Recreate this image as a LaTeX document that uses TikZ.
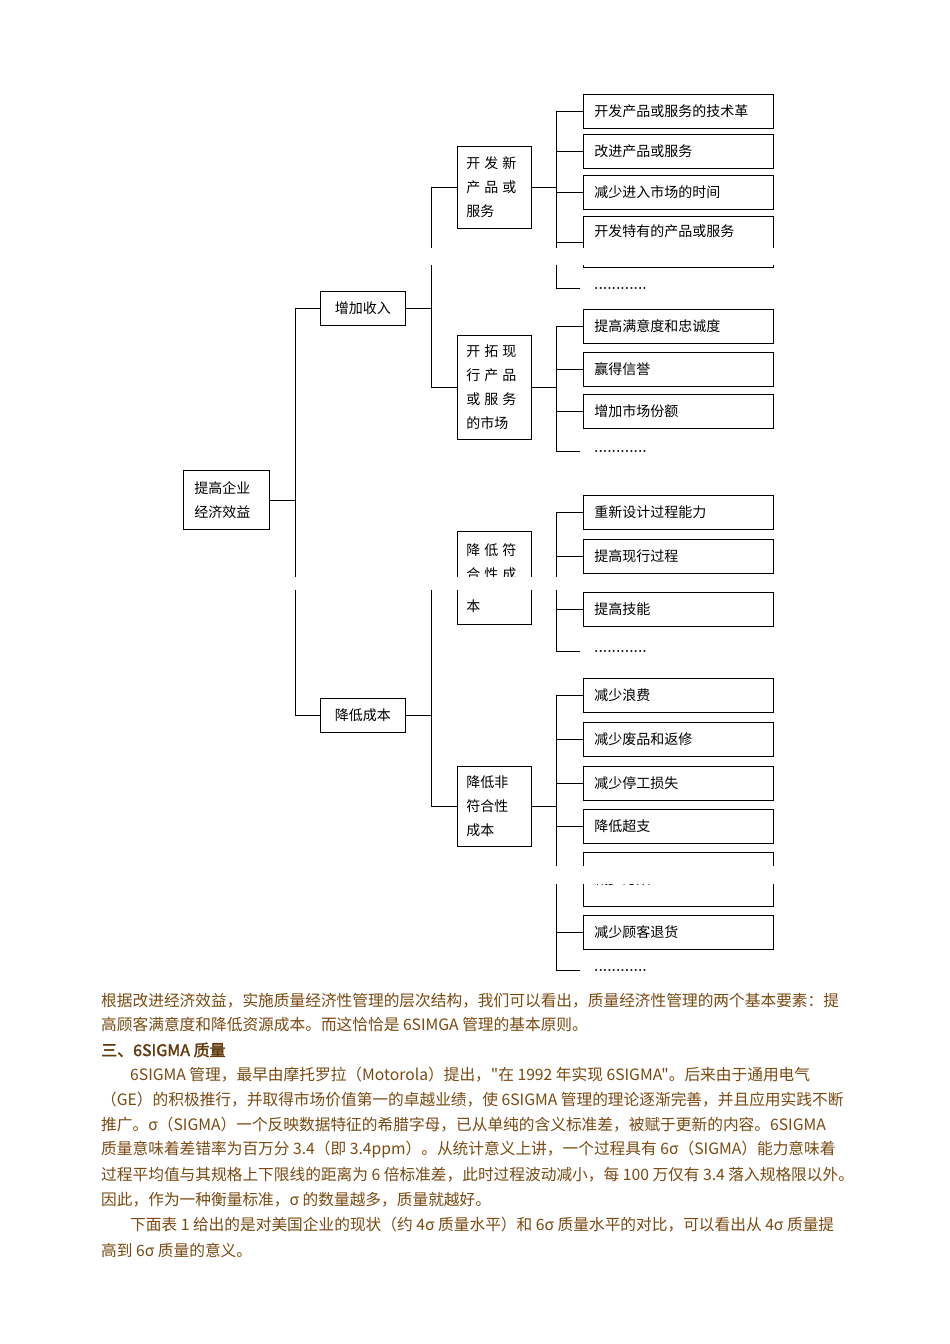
\documentclass[tikz,border=0pt]{standalone}
\usepackage{fontspec}
\newfontfamily\cjk{Noto Sans CJK SC}
\newfontfamily\cjkb[FakeBold=2]{Noto Sans CJK SC}
\definecolor{brn}{HTML}{7A4A12}
\begin{document}
\begin{tikzpicture}[x=1pt,y=-1pt,
  font=\cjk\fontsize{14}{24}\selectfont,
  ln/.style={line width=0.8pt},
  bx/.style={draw,line width=0.8pt,anchor=north west,inner sep=0pt,align=left},
  l3/.style={bx,minimum width=190,minimum height=34,text width=168},
  dt/.style={anchor=west,inner sep=0pt,font=\bfseries\fontsize{14}{14}\selectfont},
  para/.style={anchor=west,inner sep=0pt,text=brn,font=\cjk\fontsize{15.7}{16}\selectfont}]
\useasboundingbox (0,0) rectangle (950,1344);
\fill[white] (0,0) rectangle (950,1344);
% boxes
\node[bx,minimum width=86,minimum height=59,text width=64] (root) at (183,470) {提高企业\\经济效益};
\node[bx,minimum width=85,minimum height=34,align=center] (inc) at (320,291) {增加收入};
\node[bx,minimum width=85,minimum height=34,align=center] (cost) at (320,698) {降低成本};
\node[bx,minimum width=74,minimum height=82,text width=56] (b1) at (457,146) {开\hspace{4pt}发\hspace{4pt}新\\产\hspace{4pt}品\hspace{4pt}或\\服务};
\node[bx,minimum width=74,minimum height=104,text width=56] (b2) at (457,335) {开\hspace{4pt}拓\hspace{4pt}现\\行\hspace{4pt}产\hspace{4pt}品\\或\hspace{4pt}服\hspace{4pt}务\\的市场};
\node[bx,minimum width=74,minimum height=93,text width=56] (b3) at (457,531) {降\hspace{4pt}低\hspace{4pt}符\\合\hspace{4pt}性\hspace{4pt}成\\[8pt]本};
\node[bx,minimum width=74,minimum height=80,text width=56] (b4) at (457,766) {降低非\\符合性\\成本};
% level 3
\node[l3] (a1) at (583,94) {开发产品或服务的技术革};
\node[l3] (a2) at (583,134) {改进产品或服务};
\node[l3] (a3) at (583,175) {减少进入市场的时间};
\node[l3,minimum height=51,text depth=22pt] (a4) at (583,216) {开发特有的产品或服务};
\node[dt] (ad) at (594,288) {............};
\node[l3] (c1) at (583,309) {提高满意度和忠诚度};
\node[l3] (c2) at (583,352) {赢得信誉};
\node[l3] (c3) at (583,394) {增加市场份额};
\node[dt] (cd) at (594,451) {............};
\node[l3] (e1) at (583,495) {重新设计过程能力};
\node[l3] (e2) at (583,539) {提高现行过程};
\node[l3] (e3) at (583,592) {提高技能};
\node[dt] (ed) at (594,651) {............};
\node[l3] (f1) at (583,678) {减少浪费};
\node[l3] (f2) at (583,722) {减少废品和返修};
\node[l3] (f3) at (583,766) {减少停工损失};
\node[l3] (f4) at (583,809) {降低超支};
\node[l3,minimum height=54] (f5) at (583,852) {减少污染};
\node[l3] (f6) at (583,915) {减少顾客退货};
\node[dt] (fd) at (594,970) {............};
% connectors
\draw[ln] (root.east) -- ++(26,0) coordinate (r);
\draw[ln] (inc.west) -- ++(-25,0) |- (cost.west);
\draw[ln] (inc.east) -- ++(26,0) coordinate (p);
\draw[ln] (b1.west) -- ++(-26,0) |- (b2.west);
\draw[ln] (cost.east) -- ++(26,0);
\draw[ln] (b3.west) -- ++(-26,0) |- (b4.west);
\foreach \b/\t/\d in {b1/a1/ad,b2/c1/cd,b3/e1/ed,b4/f1/fd}{
  \draw[ln] (\b.east) -- ++(25,0);
  \draw[ln] (\t.west) -- ++(-27,0) coordinate (q) -- (q|-\d.west) -- ++(24,0);
}
\foreach \t in {a2,a3,a4,c2,c3,e2,e3,f2,f3,f4,f5,f6}{\draw[ln] (\t.west) -- ++(-27,0);}
% page-break bands
\fill[white] (270,248) rectangle (780,265);
\fill[white] (270,577) rectangle (780,590);
\fill[white] (270,866) rectangle (780,884);
% text
\node[para] (t1) at (101,1001) {根据改进经济效益，实施质量经济性管理的层次结构，我们可以看出，质量经济性管理的两个基本要素：提};
\node[para] (t2) at (101,1025) {高顾客满意度和降低资源成本。而这恰恰是 6SIMGA 管理的基本原则。};
\node[para,font=\cjkb\fontsize{16}{16}\selectfont,text=brn!80!black] (t3) at (101,1050) {三、6SIGMA 质量};
\node[para] (t4) at (130,1075) {6SIGMA 管理，最早由摩托罗拉（Motorola）提出，"在 1992 年实现 6SIGMA"。后来由于通用电气};
\node[para] (t5) at (101,1100) {（GE）的积极推行，并取得市场价值第一的卓越业绩，使 6SIGMA 管理的理论逐渐完善，并且应用实践不断};
\node[para] (t6) at (101,1125) {推广。σ（SIGMA）一个反映数据特征的希腊字母，已从单纯的含义标准差，被赋于更新的内容。6SIGMA};
\node[para] (t7) at (101,1150) {质量意味着差错率为百万分 3.4（即 3.4ppm）。从统计意义上讲，一个过程具有 6σ（SIGMA）能力意味着};
\node[para] (t8) at (101,1175) {过程平均值与其规格上下限线的距离为 6 倍标准差，此时过程波动减小，每 100 万仅有 3.4 落入规格限以外。};
\node[para] (t9) at (101,1200) {因此，作为一种衡量标准，σ 的数量越多，质量就越好。};
\node[para] (t10) at (130,1225) {下面表 1 给出的是对美国企业的现状（约 4σ 质量水平）和 6σ 质量水平的对比，可以看出从 4σ 质量提};
\node[para] (t11) at (101,1250) {高到 6σ 质量的意义。};
\end{tikzpicture}
\end{document}
